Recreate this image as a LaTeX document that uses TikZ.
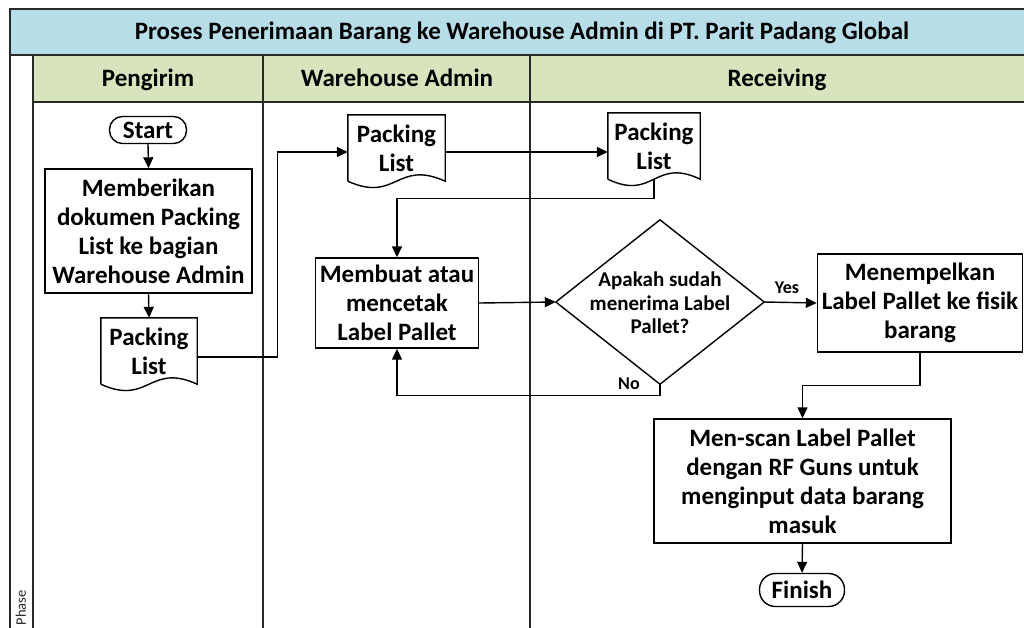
\documentclass[tikz,border=0pt]{standalone}
\usepackage{fontspec}
\setmainfont{Carlito}
\usetikzlibrary{arrows.meta,calc}
\definecolor{titleblue}{RGB}{183,221,232}
\definecolor{headgreen}{RGB}{215,228,189}
\definecolor{frame}{RGB}{40,40,40}
\begin{document}
\begin{tikzpicture}[x=1pt,y=-1pt,
  lane/.style={draw=frame,line width=1.2pt},
  box/.style={draw=black,line width=1.4pt,align=center,inner sep=0pt,
    font=\fontsize{25}{29}\selectfont\bfseries},
  term/.style={box,rounded corners=13pt},
  doc/.style={align=center,inner sep=0pt,font=\fontsize{25}{29}\selectfont\bfseries},
  dtext/.style={align=center,inner sep=0pt,font=\fontsize{21}{23.5}\selectfont\bfseries},
  lbl/.style={inner sep=0pt,anchor=base,font=\fontsize{18}{20}\selectfont\bfseries},
  arr/.style={line width=1.4pt,-{Triangle[length=11pt,width=10pt]}},
  hdr/.style={anchor=base,inner sep=0pt,font=\fontsize{25}{29}\selectfont\bfseries}
]
\useasboundingbox (0,0) rectangle (1024,627);
\fill[white] (0,0) rectangle (1024,627);
% title and header bands
\fill[titleblue] (10,9) rectangle (1030,55);
\fill[headgreen] (33,55) rectangle (1030,102);
\draw[lane] (1030,9) -- (10,9) -- (10,640);
\draw[lane] (10,55) -- (1030,55);
\draw[lane] (33,102) -- (1030,102);
\draw[lane] (33,55) -- (33,640);
\draw[lane] (263,55) -- (263,640);
\draw[lane] (530,55) -- (530,640);
\node[hdr] (title) at (522,39) {Proses Penerimaan Barang ke Warehouse Admin di PT. Parit Padang Global};
\node[hdr] (h1) at (148,86) {Pengirim};
\node[hdr] (h2) at (397,86) {Warehouse Admin};
\node[hdr] (h3) at (777,86) {Receiving};
\node[rotate=90,anchor=east,inner sep=0pt,text=frame,font=\fontsize{14.5}{16}\selectfont] (phase) at (21,590) {Phase};

% Pengirim lane
\node[term,minimum width=77pt,minimum height=27pt] (start) at (148,130) {Start};
\node[box,minimum width=207pt,minimum height=124pt] (b1) at (148.5,231) {Memberikan\\dokumen Packing\\List ke bagian\\Warehouse Admin};
\node[doc,minimum width=96pt,minimum height=66pt] (d1) at (149,351) {Packing\\List};
% Warehouse Admin lane
\node[doc,minimum width=97pt,minimum height=66pt] (d2) at (396.5,148) {Packing\\List};
\node[box,minimum width=163pt,minimum height=90pt] (b2) at (397,303) {Membuat atau\\mencetak\\Label Pallet};
% Receiving lane
\node[doc,minimum width=92pt,minimum height=66pt] (d3) at (654,146) {Packing\\List};
\node[minimum width=208pt,minimum height=164pt,inner sep=0pt] (dia) at (660,302) {};
\node[dtext] (diat) at (660,303) {Apakah sudah\\menerima Label\\Pallet?};
\node[box,minimum width=205pt,minimum height=98pt] (b3) at (920,303) {Menempelkan\\Label Pallet ke fisik\\barang};
\node[box,minimum width=297pt,minimum height=124pt] (b4) at (802.5,481) {Men-scan Label Pallet\\dengan RF Guns untuk\\menginput data barang\\masuk};
\node[term,minimum width=85pt,minimum height=33pt,rounded corners=16pt] (fin) at (802,590) {Finish};

% document shapes
\foreach \d in {d1,d2,d3}{
  \draw[line width=1.4pt] (\d.south west) -- (\d.north west) -- (\d.north east) -- (\d.south east)
    .. controls ($(\d.south)+(0,-22)$) and ($(\d.south)+(0,22)$) .. (\d.south west);
}
% diamond
\draw[line width=1.4pt] (dia.west) -- (dia.north) -- (dia.east) -- (dia.south) -- cycle;

% connectors
\path ($(d1.east)+(0,6)$) coordinate (p1)
      ($(d2.east)+(0,4)$) coordinate (p2)
      ($(d2.west)+(0,4)$) coordinate (p3);
\draw[arr] (start.south) -- (b1.north);
\draw[arr] (b1.south) -- (d1.north);
\draw[arr] (p1) -- ++(80,0) |- (p3);
\draw[arr] (p2) -- (p2 -| d3.west);
\draw[arr] (d3.south) -- ++(0,19) -| (b2.north);
\draw[arr] (b2.east) -- (dia.west);
\draw[arr] (dia.east) -- (b3.west);
\node[lbl] (yes) at (787,293) {Yes};
\draw[arr] (dia.south) -- ++(0,11) -| (b2.south);
\node[lbl] (no) at (629,389) {No};
\draw[arr] (b3.south) -- ++(0,33) -| (b4.north);
\draw[arr] (b4.south) -- (fin.north);
\end{tikzpicture}
\end{document}
